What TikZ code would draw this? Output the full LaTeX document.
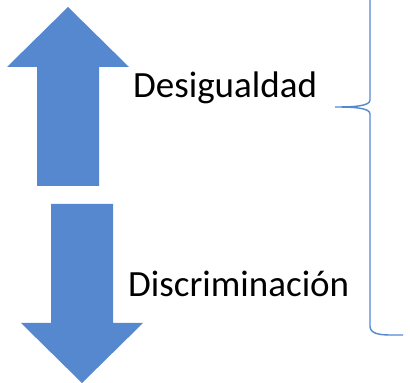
\documentclass[tikz,border=0pt]{standalone}
\usepackage{fontspec}
\setmainfont{Carlito}
\usepackage{tikz}
\usetikzlibrary{positioning}
\definecolor{officeblue}{RGB}{85,136,207}

\begin{document}
\begin{tikzpicture}[x=1pt, y=1pt, label/.style={anchor=base west, inner sep=0pt, font=\fontsize{37}{44}\selectfont}]
    \useasboundingbox (0,0) rectangle (410,383);
    \clip (0,0) rectangle (410,383);

    % Up arrow
    \fill[officeblue] (68,376) -- (129,316) -- (99,316) -- (99,197) -- (37,197) -- (37,316) -- (7,316) -- cycle;
    % Down arrow
    \fill[officeblue] (82,0) -- (143,60) -- (113,60) -- (113,179) -- (51,179) -- (51,60) -- (21,60) -- cycle;

    % Labels
    \node[label] (desig) at (133,285) {Desigualdad};
    \node[label] (discr) at (128,86) {Discriminación};

    % Brace
    \def\bx{370};
    \coordinate (tip) at (335,276);
    \draw[officeblue, line width=1.4pt] (403,392) .. controls (378,392) and (\bx,388) .. (\bx,383)
        -- (\bx,283) .. controls (\bx,277) and (355,276) .. (tip)
        .. controls (355,276) and (\bx,275) .. (\bx,269)
        -- (\bx,57) .. controls (\bx,50) and (378,48) .. (390,48) -- (403,48);
\end{tikzpicture}
\end{document}
